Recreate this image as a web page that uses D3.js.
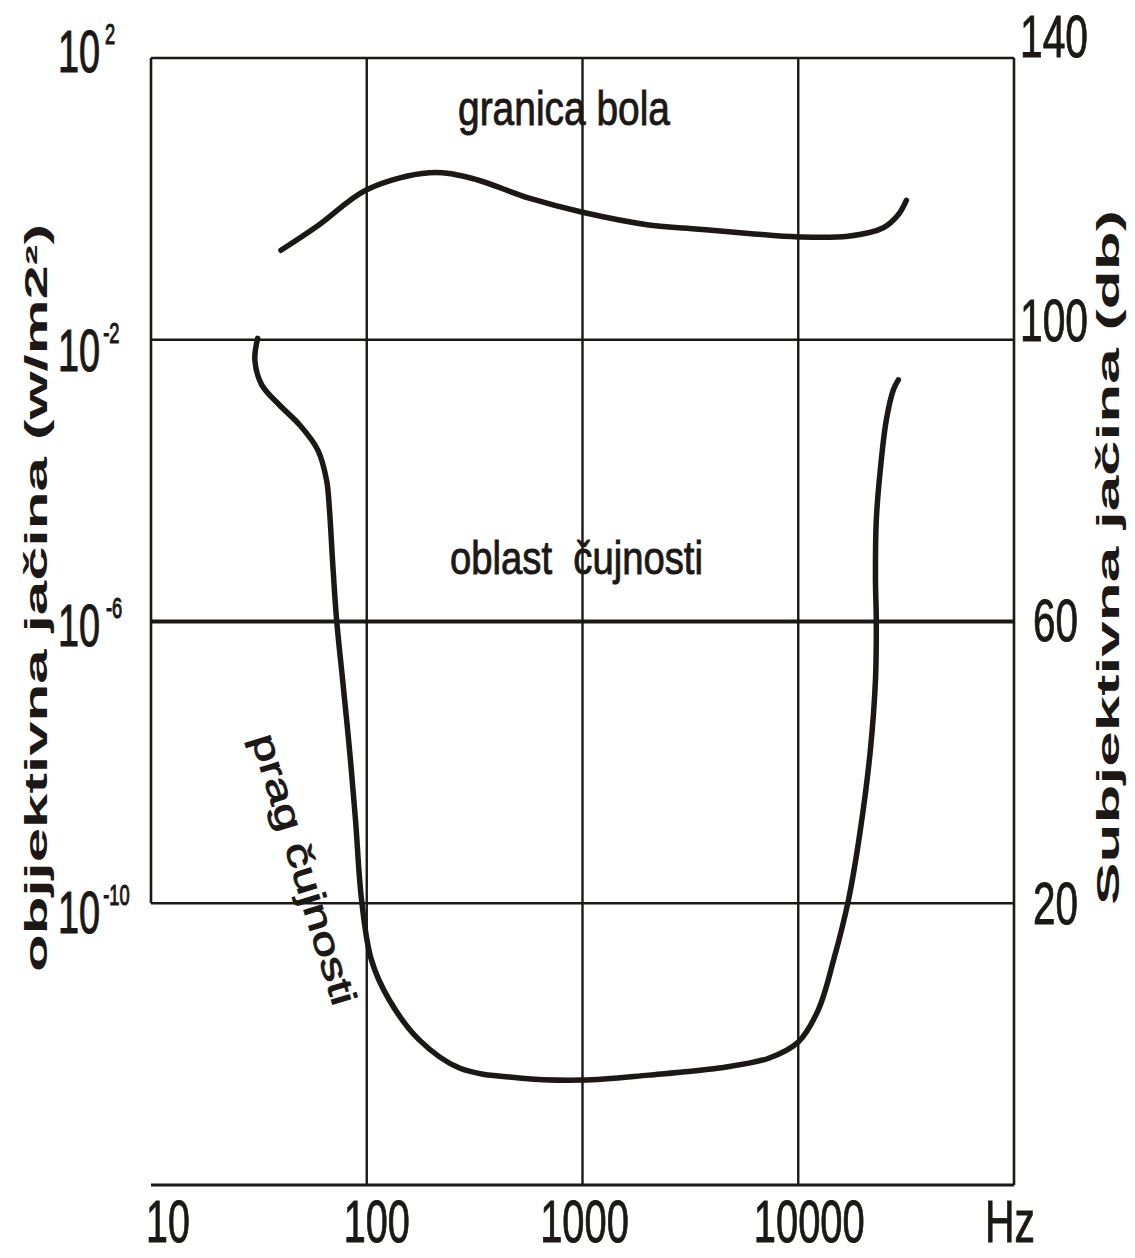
<!DOCTYPE html>
<html><head><meta charset="utf-8">
<script src="https://cdn.jsdelivr.net/npm/d3@7"></script>
<style>body{margin:0;background:#fff} text{white-space:pre}</style>
</head><body><svg id="c" width="1135" height="1258"></svg>
<script>
// ---- data ----
const freqTicks = [10, 100, 1000, 10000];
const freqTickLabels = ["10", "100", "1000", "10000"];
const unitLabel = "Hz";
const dbTicks = [140, 100, 60, 20];
const dbTickLabels = ["140", "100", "60", "20"];
const intensityExponents = ["2", "-2", "-6", "-10"];

const painFreq = [40, 60, 100, 195, 300, 566, 1000, 2030, 3460, 5890, 10000, 17000, 24800, 29000, 31700];
const painDb   = [112.7, 116.3, 121.3, 123.7, 123.0, 120.1, 118.1, 116.3, 115.7, 115.1, 114.6, 114.7, 115.9, 117.7, 119.8];

const thresholdFreq = [31.2, 30.3, 32.6, 39.5, 48.9, 59.2, 65.1, 67.2, 69.4, 72.5, 77.3, 83.2, 88.7, 94.6, 105, 127, 175, 269, 509, 1000, 2030, 4280, 7290, 10000, 12400, 14600, 17100, 19400, 21600, 22800, 23000, 22800, 23000, 24000, 25600, 27600, 29100];
const thresholdDb   = [100.2, 97.1, 93.6, 90.7, 87.9, 84.4, 80.1, 75.8, 68.7, 60.2, 51.7, 41.8, 31.8, 20.5, 12.0, 6.3, 0.6, -3.4, -4.8, -5.1, -4.4, -3.4, -2.0, 0.3, 4.9, 12.0, 20.5, 30.4, 41.8, 51.7, 60.2, 65.9, 74.4, 81.5, 88.6, 92.9, 94.3];

const regionLabels = ["granica bola", "oblast  čujnosti", "prag čujnosti"];
const leftTitle = "objjektivna jačina (w/m2²)";
const rightTitle = "Subjektivna jačina (db)";

// ---- layout ----
const INK = "#1b1816";
const FONT = "'Liberation Sans', Arial, sans-serif";
const svg = d3.select("#c");
const x = d3.scaleLog().domain([10, 100000]).range([151, 1014]);
const y = d3.scaleLinear().domain([-20, 140]).range([1185, 58]);

function txt(s, px, py, size, len, weight, extra) {
  const t = svg.append("text").attr("x", px).attr("y", py)
    .attr("xml:space", "preserve")
    .attr("font-family", FONT).attr("font-size", size).attr("font-weight", weight)
    .attr("fill", INK).text(s);
  if (weight === "normal") t.attr("stroke", INK).attr("stroke-width", 0.9);
  if (len) t.attr("textLength", len).attr("lengthAdjust", "spacingAndGlyphs");
  if (extra) extra(t);
  return t;
}

// horizontal grid lines (incl. top border)
dbTicks.forEach(d => {
  svg.append("line").attr("x1", x(10)).attr("x2", x(100000))
    .attr("y1", y(d)).attr("y2", y(d))
    .attr("stroke", INK).attr("stroke-width", d === 60 ? 4 : 2.6);
});
// vertical grid lines
freqTicks.slice(1).forEach(f => {
  svg.append("line").attr("x1", x(f)).attr("x2", x(f))
    .attr("y1", y(140)).attr("y2", y(-20))
    .attr("stroke", INK).attr("stroke-width", 2.4);
});
// left border (stops at 20 dB line)
svg.append("line").attr("x1", x(10)).attr("x2", x(10)).attr("y1", y(140)).attr("y2", y(20))
  .attr("stroke", INK).attr("stroke-width", 2.6);
// right border
svg.append("line").attr("x1", x(100000)).attr("x2", x(100000)).attr("y1", y(140)).attr("y2", y(-20))
  .attr("stroke", INK).attr("stroke-width", 2.6);
// bottom axis
svg.append("line").attr("x1", x(10)).attr("x2", x(100000)).attr("y1", y(-20)).attr("y2", y(-20))
  .attr("stroke", INK).attr("stroke-width", 3);

// curves
const line = d3.line().x(d => x(d[0])).y(d => y(d[1])).curve(d3.curveCatmullRom.alpha(0.5));
svg.append("path").attr("d", line(painFreq.map((f, i) => [f, painDb[i]])))
  .attr("fill", "none").attr("stroke", INK).attr("stroke-width", 5.5).attr("stroke-linecap", "round");
svg.append("path").attr("d", line(thresholdFreq.map((f, i) => [f, thresholdDb[i]])))
  .attr("fill", "none").attr("stroke", INK).attr("stroke-width", 5.5).attr("stroke-linecap", "round");

// bottom tick labels
const bottomDx = [17, 10, 2, 11];
freqTickLabels.forEach((s, i) => {
  const w = s.length * 22.4 - 1;
  txt(s, x(freqTicks[i]) + bottomDx[i] - w / 2, 1242, 60, w, "normal");
});
txt(unitLabel, 985, 1242, 60, 50, "normal");

// left tick labels (10^n) as one text with superscript tspan, horizontally condensed
const leftDy = [14, 31.5, 24, 29.5];
const expDx = [8, 5, 9.5, 5];
const SX = 0.63;
intensityExponents.forEach((e, i) => {
  const by = y(dbTicks[i]) + leftDy[i];
  const t = svg.append("text")
    .attr("transform", `translate(58,${by}) scale(${SX},1)`)
    .attr("font-family", FONT).attr("fill", INK)
    .attr("stroke", INK).attr("stroke-width", 1.1);
  t.append("tspan").attr("font-size", 60).text("10");
  t.append("tspan").attr("font-size", 29).attr("dx", expDx[i]).attr("dy", -28).text(e);
});

// right tick labels (dB)
const rightDy = [-1, 1.5, 19, 20.5];
dbTickLabels.forEach((s, i) => {
  const w = s.length === 3 ? 68 : 45;
  txt(s, s.length === 3 ? 1020 : 1033, y(dbTicks[i]) + rightDy[i], 60, w, "normal");
});

// region labels
txt(regionLabels[0], 458, 125, 48, 212, "normal");
txt(regionLabels[1], 450, 574, 46, 253, "normal");
txt(regionLabels[2], 0, 0, 36, 282, "normal", t => t.attr("transform", "translate(251,738) rotate(73)"));

// axis titles
txt(leftTitle, 0, 0, 31, 748, "bold", t => t.attr("transform", "translate(47,972) rotate(-90)"));
txt(rightTitle, 0, 0, 32, 695, "bold", t => t.attr("transform", "translate(1119,905) rotate(-90)"));
</script>
</body></html>
